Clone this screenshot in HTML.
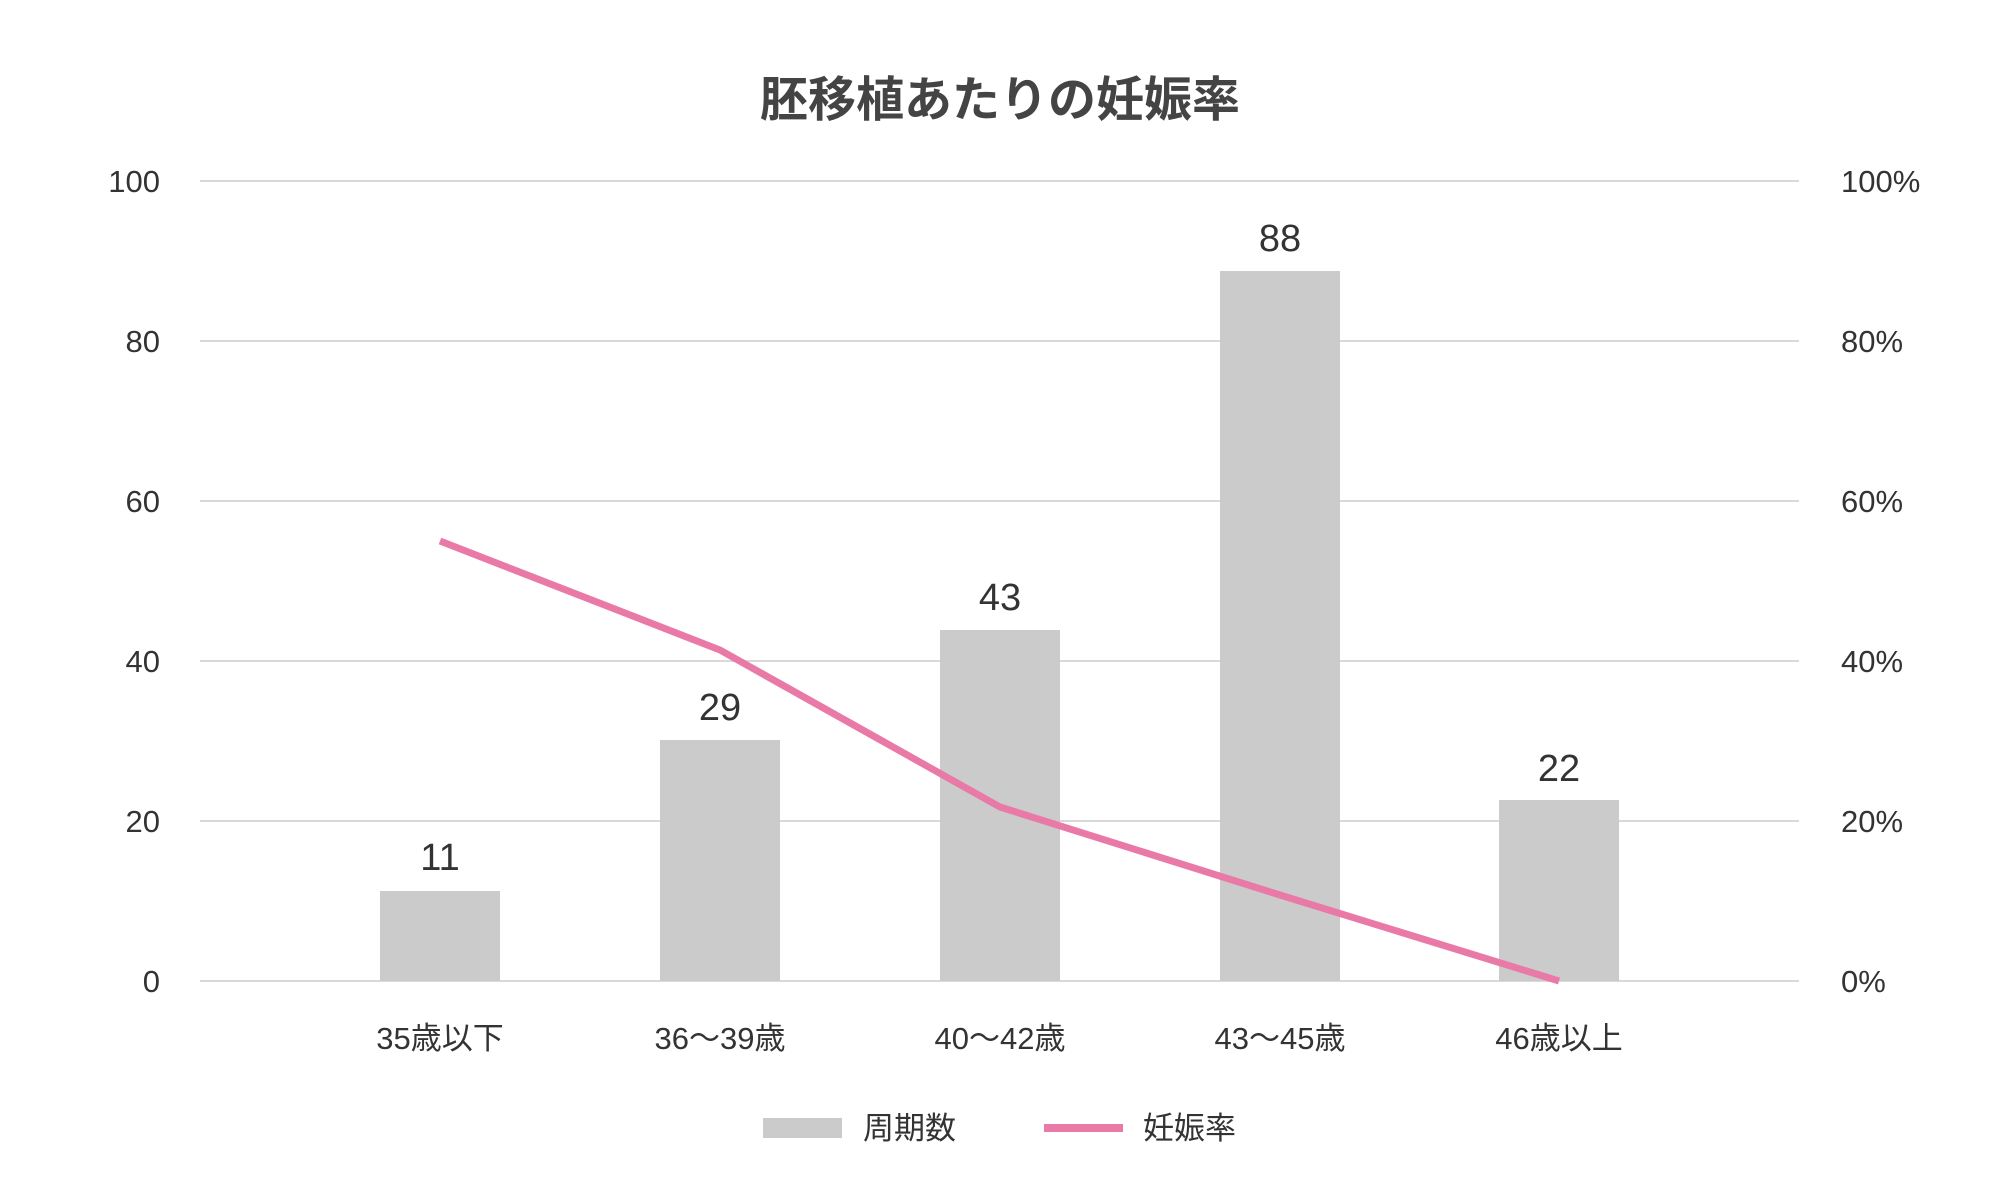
<!DOCTYPE html>
<html><head><meta charset="utf-8"><style>
html,body{margin:0;padding:0;background:#fff;}
svg{display:block;font-family:"Liberation Sans","Noto Sans CJK JP",sans-serif;}
</style></head><body>
<svg width="2000" height="1200" viewBox="0 0 2000 1200">
<rect width="2000" height="1200" fill="#fff"/>
<text x="1000" y="116" text-anchor="middle" font-size="48" font-weight="bold" fill="#444">胚移植あたりの妊娠率</text>
<g stroke="#d9d9d9" stroke-width="2">
<line x1="200" y1="181" x2="1799" y2="181"/>
<line x1="200" y1="341" x2="1799" y2="341"/>
<line x1="200" y1="501" x2="1799" y2="501"/>
<line x1="200" y1="661" x2="1799" y2="661"/>
<line x1="200" y1="821" x2="1799" y2="821"/>
<line x1="200" y1="981" x2="1799" y2="981"/>
</g>
<g font-size="31" fill="#333" text-anchor="end">
<text x="160" y="192">100</text>
<text x="160" y="352">80</text>
<text x="160" y="512">60</text>
<text x="160" y="672">40</text>
<text x="160" y="832">20</text>
<text x="160" y="992">0</text>
</g>
<g font-size="31" fill="#333" text-anchor="start">
<text x="1841" y="192">100%</text>
<text x="1841" y="352">80%</text>
<text x="1841" y="512">60%</text>
<text x="1841" y="672">40%</text>
<text x="1841" y="832">20%</text>
<text x="1841" y="992">0%</text>
</g>
<g fill="#cbcbcb">
<rect x="380" y="891" width="120" height="90"/>
<rect x="660" y="740" width="120" height="241"/>
<rect x="940" y="630" width="120" height="351"/>
<rect x="1220" y="271" width="120" height="710"/>
<rect x="1499" y="800" width="120" height="181"/>
</g>
<polyline points="440,541 720,650 1000,807 1280,895 1559,981" fill="none" stroke="#e97aa7" stroke-width="7"/>
<g font-size="38" fill="#333" text-anchor="middle">
<text x="440" y="870">11</text>
<text x="720" y="720">29</text>
<text x="1000" y="610">43</text>
<text x="1280" y="251">88</text>
<text x="1559" y="781">22</text>
</g>
<g font-size="31" fill="#333" text-anchor="middle">
<text x="440" y="1049">35歳以下</text>
<text x="720" y="1049">36～39歳</text>
<text x="1000" y="1049">40～42歳</text>
<text x="1280" y="1049">43～45歳</text>
<text x="1559" y="1049">46歳以上</text>
</g>
<rect x="763" y="1118" width="79" height="20" fill="#cbcbcb"/>
<text x="863" y="1139" font-size="31" fill="#333">周期数</text>
<line x1="1044" y1="1128" x2="1123" y2="1128" stroke="#e97aa7" stroke-width="8"/>
<text x="1143" y="1139" font-size="31" fill="#333">妊娠率</text>
</svg>
</body></html>
